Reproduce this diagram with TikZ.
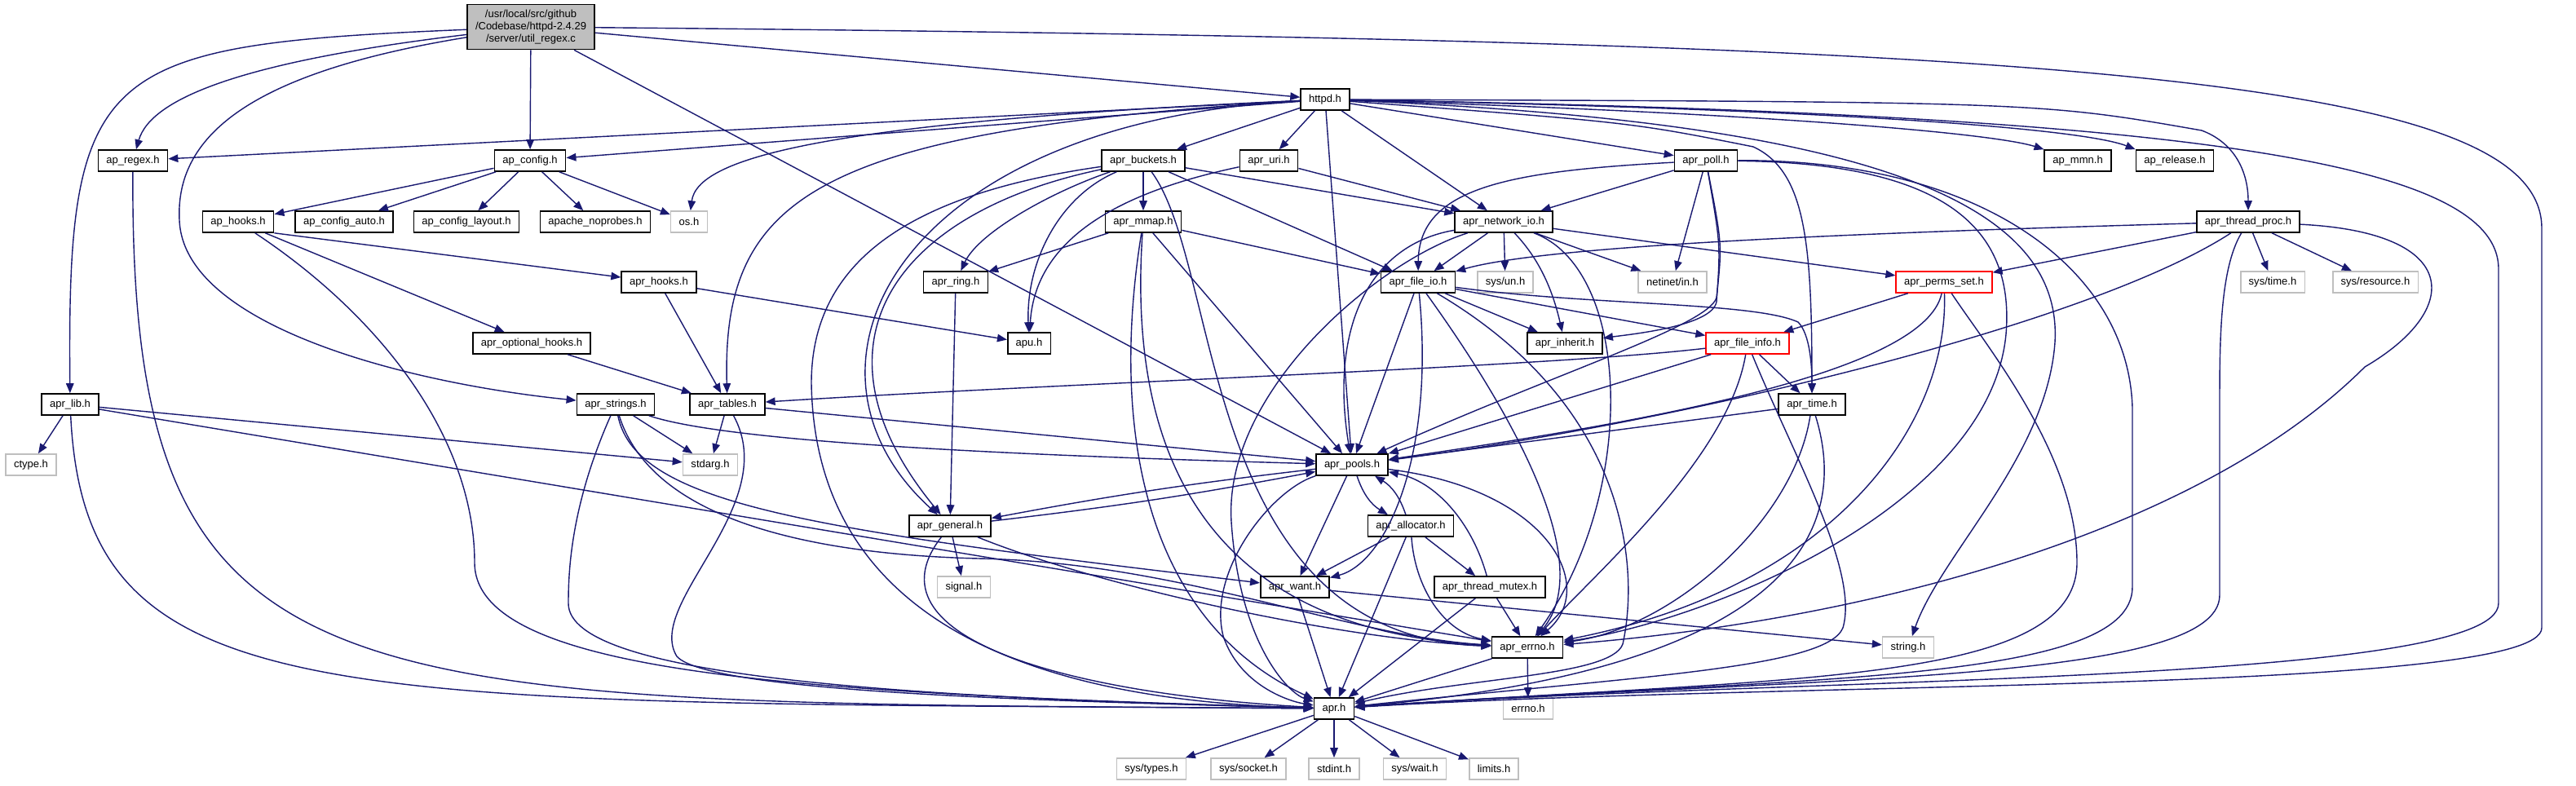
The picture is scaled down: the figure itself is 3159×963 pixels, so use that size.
\documentclass[tikz,border=0pt]{standalone}
\usepackage{fontspec}
\setmainfont{Liberation Sans}
\usepackage{tikz}
\usetikzlibrary{arrows.meta}
\definecolor{edgeblue}{RGB}{25,25,112}
\definecolor{sysgray}{RGB}{191,191,191}

\begin{document}
\begin{tikzpicture}[
  x=0.01cm, y=-0.01cm,
  hdr/.style={rectangle, draw=black, line width=0.45pt, fill=white, font=\fontsize{3.7}{4.3}\selectfont, inner xsep=0.1cm, inner ysep=0pt, minimum height=0.26cm},
  syshdr/.style={hdr, draw=sysgray},
  cuthdr/.style={hdr, draw=red},
  srcfile/.style={hdr, fill=sysgray, align=center, minimum height=0.55cm},
  inc/.style={-{Triangle[length=1.2mm,width=0.95mm]}, draw=edgeblue, line width=0.4pt}
]
\useasboundingbox (0,0) rectangle (3159,963);

% --- source file and httpd.h ---
\node[srcfile] (root) at (651,33) {/usr/local/src/github\\/Codebase/httpd-2.4.29\\/server/util\_regex.c};
\node[hdr] (httpd) at (1625,122) {httpd.h};

% --- rank 2 ---
\node[hdr] (regex) at (163,197) {ap\_regex.h};
\node[hdr] (config) at (650,197) {ap\_config.h};
\node[hdr] (buckets) at (1402,197) {apr\_buckets.h};
\node[hdr] (uri) at (1556,197) {apr\_uri.h};
\node[hdr] (poll) at (2092,197) {apr\_poll.h};
\node[hdr] (mmn) at (2548,197) {ap\_mmn.h};
\node[hdr] (release) at (2667,197) {ap\_release.h};

% --- rank 3 ---
\node[hdr] (hooks) at (292,272) {ap\_hooks.h};
\node[hdr] (cauto) at (422,272) {ap\_config\_auto.h};
\node[hdr] (clayout) at (572,272) {ap\_config\_layout.h};
\node[hdr] (noprobes) at (730,272) {apache\_noprobes.h};
\node[syshdr] (os) at (845,272) {os.h};
\node[hdr] (mmap) at (1402,272) {apr\_mmap.h};
\node[hdr] (netio) at (1844,272) {apr\_network\_io.h};
\node[hdr] (tproc) at (2757,272) {apr\_thread\_proc.h};

% --- rank 4 ---
\node[hdr] (aprhooks) at (808,346) {apr\_hooks.h};
\node[hdr] (ring) at (1172,346) {apr\_ring.h};
\node[hdr] (fileio) at (1739,346) {apr\_file\_io.h};
\node[syshdr] (sysun) at (1846,346) {sys/un.h};
\node[syshdr] (netin) at (2051,346) {netinet/in.h};
\node[cuthdr] (perms) at (2384,346) {apr\_perms\_set.h};
\node[syshdr] (systime) at (2787,346) {sys/time.h};
\node[syshdr] (sysres) at (2913,346) {sys/resource.h};

% --- rank 5 ---
\node[hdr] (opthooks) at (652,421) {apr\_optional\_hooks.h};
\node[hdr] (apu) at (1262,421) {apu.h};
\node[hdr] (inherit) at (1919,421) {apr\_inherit.h};
\node[cuthdr] (finfo) at (2143,421) {apr\_file\_info.h};

% --- rank 6 ---
\node[hdr] (aprlib) at (86,496) {apr\_lib.h};
\node[hdr] (strings) at (755,496) {apr\_strings.h};
\node[hdr] (tables) at (892,496) {apr\_tables.h};
\node[hdr] (atime) at (2222,496) {apr\_time.h};

% --- rank 7 ---
\node[syshdr] (ctype) at (38,570) {ctype.h};
\node[syshdr] (stdarg) at (871,570) {stdarg.h};
\node[hdr] (pools) at (1658,570) {apr\_pools.h};

% --- rank 8 ---
\node[hdr] (general) at (1165,645) {apr\_general.h};
\node[hdr] (alloc) at (1730,645) {apr\_allocator.h};

% --- rank 9 ---
\node[syshdr] (signal) at (1182,720) {signal.h};
\node[hdr] (want) at (1588,720) {apr\_want.h};
\node[hdr] (mutex) at (1827,720) {apr\_thread\_mutex.h};

% --- rank 10 ---
\node[hdr] (errno) at (1873,794) {apr\_errno.h};
\node[syshdr] (string) at (2340,794) {string.h};

% --- rank 11 and 12 ---
\node[hdr] (apr) at (1636,869) {apr.h};
\node[syshdr] (errnoh) at (1874,869) {errno.h};
\node[syshdr] (systypes) at (1412,943) {sys/types.h};
\node[syshdr] (syssocket) at (1531,943) {sys/socket.h};
\node[syshdr] (stdint) at (1636,943) {stdint.h};
\node[syshdr] (syswait) at (1735,943) {sys/wait.h};
\node[syshdr] (limits) at (1832,943) {limits.h};

% --- includes of util_regex.c ---
\draw[inc] (root) .. controls (300,75) and (185,120) .. (regex);
\draw[inc] (root) .. controls (120,55) and (82,80) .. (aprlib);
\draw[inc] (root) .. controls (300,90) and (215,170) .. (220,270) .. controls (225,400) and (500,470) .. (strings);
\draw[inc] (root) -- (config);
\draw[inc] (root) -- (pools);
\draw[inc] (root) -- (httpd);
\draw[inc] (root) .. controls (2500,50) and (3117,90) .. (3117,280) -- (3117,770) .. controls (3117,850) and (2200,835) .. (apr);

% --- includes of httpd.h ---
\draw[inc] (httpd) -- (regex);
\draw[inc] (httpd) -- (config);
\draw[inc] (httpd) .. controls (1000,150) and (855,195) .. (os);
\draw[inc] (httpd) .. controls (1000,160) and (885,240) .. (tables);
\draw[inc] (httpd) .. controls (1100,150) and (950,450) .. (general);
\draw[inc] (httpd) -- (buckets);
\draw[inc] (httpd) -- (uri);
\draw[inc] (httpd) -- (netio);
\draw[inc] (httpd) -- (poll);
\draw[inc] (httpd) -- (pools);
\draw[inc] (httpd) .. controls (2000,150) .. (2150,180) .. controls (2215,210) and (2222,300) .. (atime);
\draw[inc] (httpd) .. controls (2500,125) .. (2700,160) .. controls (2740,175) and (2757,210) .. (tproc);
\draw[inc] (httpd) .. controls (2200,140) and (2450,165) .. (mmn.north west);
\draw[inc] (httpd) .. controls (2300,135) and (2560,160) .. (release.north west);
\draw[inc] (httpd) .. controls (2300,150) and (2530,250) .. (2520,420) .. controls (2510,560) and (2380,680) .. (string);
\draw[inc] (httpd) .. controls (2700,140) and (3064,200) .. (3064,330) -- (3064,740) .. controls (3064,840) and (2200,830) .. (apr);

% --- ap_config.h, ap_regex.h, ap_hooks.h ---
\draw[inc] (config) -- (hooks);
\draw[inc] (config) -- (cauto);
\draw[inc] (config) -- (clayout);
\draw[inc] (config) -- (noprobes);
\draw[inc] (config) -- (os);
\draw[inc] (regex) .. controls (159,880) and (400,860) .. (apr);
\draw[inc] (hooks.south east) -- (aprhooks);
\draw[inc] (hooks) -- (opthooks);
\draw[inc] (hooks) .. controls (470,390) and (582,540) .. (582,690) .. controls (582,830) and (1000,850) .. (apr);
\draw[inc] (aprhooks) -- (tables);
\draw[inc] (aprhooks) -- (apu);
\draw[inc] (opthooks) -- (tables);

% --- apr_lib.h, apr_strings.h, apr_tables.h ---
\draw[inc] (aprlib) -- (ctype);
\draw[inc] (aprlib) -- (stdarg);
\draw[inc] (aprlib) -- (errno);
\draw[inc] (aprlib) .. controls (105,880) and (400,860) .. (apr);
\draw[inc] (strings) -- (stdarg);
\draw[inc] (strings) .. controls (900,545) and (1300,560) .. (pools);
\draw[inc] (strings) .. controls (780,620) and (1000,650) .. (want);
\draw[inc] (strings) .. controls (800,640) and (1000,680) .. (1200,685) .. controls (1450,690) and (1650,780) .. (errno);
\draw[inc] (strings) .. controls (700,620) and (697,700) .. (697,740) .. controls (697,830) and (1100,855) .. (apr);
\draw[inc] (tables) -- (stdarg);
\draw[inc] (tables) -- (pools);
\draw[inc] (tables) .. controls (960,620) and (790,740) .. (830,805) .. controls (870,850) and (1300,860) .. (apr);

% --- apr_buckets.h, apr_uri.h, apr_mmap.h, apr_ring.h ---
\draw[inc] (buckets) -- (mmap);
\draw[inc] (buckets) .. controls (1290,235) and (1200,285) .. (ring);
\draw[inc] (buckets) .. controls (1300,240) and (1258,320) .. (apu);
\draw[inc] (buckets) -- (netio);
\draw[inc] (buckets) -- (fileio);
\draw[inc] (buckets) .. controls (1100,260) and (980,420) .. (general);
\draw[inc] (buckets) .. controls (1500,330) and (1470,780) .. (errno);
\draw[inc] (buckets) .. controls (1100,240) and (995,330) .. (995,470) .. controls (1000,780) and (1300,860) .. (apr);
\draw[inc] (uri) .. controls (1400,230) and (1270,280) .. (apu);
\draw[inc] (uri) -- (netio);
\draw[inc] (mmap) -- (ring);
\draw[inc] (mmap) -- (fileio);
\draw[inc] (mmap) -- (pools);
\draw[inc] (mmap) .. controls (1385,520) and (1450,770) .. (errno);
\draw[inc] (mmap) .. controls (1362,520) and (1400,760) .. (apr);
\draw[inc] (ring) -- (general);

% --- apr_network_io.h ---
\draw[inc] (netio) -- (fileio);
\draw[inc] (netio) -- (sysun);
\draw[inc] (netio) .. controls (1890,320) and (1905,360) .. (inherit);
\draw[inc] (netio) -- (netin);
\draw[inc] (netio) -- (perms);
\draw[inc] (netio) .. controls (1680,300) and (1630,400) .. (pools);
\draw[inc] (netio) .. controls (2000,330) and (2010,600) .. (errno);
\draw[inc] (netio) .. controls (1690,320) and (1500,480) .. (1510,640) .. controls (1520,790) and (1580,850) .. (apr);

% --- apr_poll.h ---
\draw[inc] (poll) -- (netio);
\draw[inc] (poll) .. controls (1850,210) and (1740,230) .. (fileio);
\draw[inc] (poll) -- (netin);
\draw[inc] (poll) .. controls (2110,300) .. (2105,370) .. controls (2100,400) and (2000,410) .. (inherit);
\draw[inc] (poll) .. controls (2112,300) .. (2105,365) .. controls (2095,400) and (1900,460) .. (pools);
\draw[inc] (poll) .. controls (2400,200) and (2470,290) .. (2460,410) .. controls (2440,620) and (2100,760) .. (errno);
\draw[inc] (poll) .. controls (2430,195) and (2610,330) .. (2615,500) -- (2615,720) .. controls (2615,840) and (2200,830) .. (apr);

% --- apr_thread_proc.h ---
\draw[inc] (tproc) .. controls (2300,285) and (1900,300) .. (fileio);
\draw[inc] (tproc) -- (perms);
\draw[inc] (tproc) -- (systime);
\draw[inc] (tproc) -- (sysres);
\draw[inc] (tproc) .. controls (2560,400) and (2050,520) .. (pools);
\draw[inc] (tproc) .. controls (3020,285) and (3020,380) .. (2900,450) .. controls (2700,650) and (2300,760) .. (errno);
\draw[inc] (tproc) .. controls (2722,330) and (2722,420) .. (2722,500) -- (2722,730) .. controls (2722,840) and (2200,830) .. (apr);

% --- apr_file_io.h ---
\draw[inc] (fileio) -- (pools);
\draw[inc] (fileio) -- (inherit);
\draw[inc] (fileio) -- (finfo);
\draw[inc] (fileio) .. controls (1950,375) and (2150,370) .. (2205,395) .. controls (2220,410) and (2222,450) .. (atime);
\draw[inc] (fileio) .. controls (1760,560) and (1700,690) .. (want);
\draw[inc] (fileio) .. controls (1850,500) and (1960,690) .. (errno);
\draw[inc] (fileio) .. controls (2000,500) and (2010,700) .. (1990,790) .. controls (1975,830) and (1800,830) .. (apr);

% --- apr_perms_set.h, apr_file_info.h, apr_time.h ---
\draw[inc] (perms) -- (finfo);
\draw[inc] (perms) .. controls (2360,460) and (2000,520) .. (pools);
\draw[inc] (perms) .. controls (2390,520) and (2250,720) .. (errno);
\draw[inc] (perms) .. controls (2440,430) and (2547,560) .. (2547,690) .. controls (2547,840) and (2200,830) .. (apr);
\draw[inc] (finfo) .. controls (1900,450) and (1300,470) .. (tables);
\draw[inc] (finfo) -- (pools);
\draw[inc] (finfo) -- (atime);
\draw[inc] (finfo) .. controls (2120,560) and (1960,700) .. (errno);
\draw[inc] (finfo) .. controls (2200,560) and (2280,700) .. (2260,770) .. controls (2240,820) and (2000,830) .. (apr);
\draw[inc] (atime) -- (pools);
\draw[inc] (atime) .. controls (2200,640) and (2050,770) .. (errno);
\draw[inc] (atime) .. controls (2270,650) and (2200,820) .. (apr);

% --- apr_pools.h and its neighbours ---
\draw[inc] (pools) to[bend right=2] (general);
\draw[inc] (general) to[bend right=2] (pools);
\draw[inc] (pools) to[bend right=20] (alloc);
\draw[inc] (alloc) to[bend right=20] (pools);
\draw[inc] (pools) -- (want);
\draw[inc] (pools) .. controls (1900,600) and (1960,720) .. (errno);
\draw[inc] (pools) .. controls (1560,600) and (1480,700) .. (1500,780) .. controls (1520,840) and (1580,860) .. (apr);
\draw[inc] (general) -- (signal);
\draw[inc] (general) .. controls (1350,720) and (1650,785) .. (errno);
\draw[inc] (general) .. controls (1060,780) and (1300,850) .. (apr);
\draw[inc] (alloc) -- (want);
\draw[inc] (alloc) -- (mutex);
\draw[inc] (alloc) .. controls (1735,720) and (1770,775) .. (errno);
\draw[inc] (alloc) -- (apr);
\draw[inc] (mutex) .. controls (1805,640) and (1760,590) .. (pools);
\draw[inc] (mutex) -- (errno);
\draw[inc] (mutex) -- (apr);
\draw[inc] (want) -- (string);
\draw[inc] (want) -- (apr);
\draw[inc] (errno) -- (errnoh);
\draw[inc] (errno) -- (apr);

% --- apr.h ---
\draw[inc] (apr) -- (systypes);
\draw[inc] (apr) -- (syssocket);
\draw[inc] (apr) -- (stdint);
\draw[inc] (apr) -- (syswait);
\draw[inc] (apr) -- (limits);

\end{tikzpicture}
\end{document}
